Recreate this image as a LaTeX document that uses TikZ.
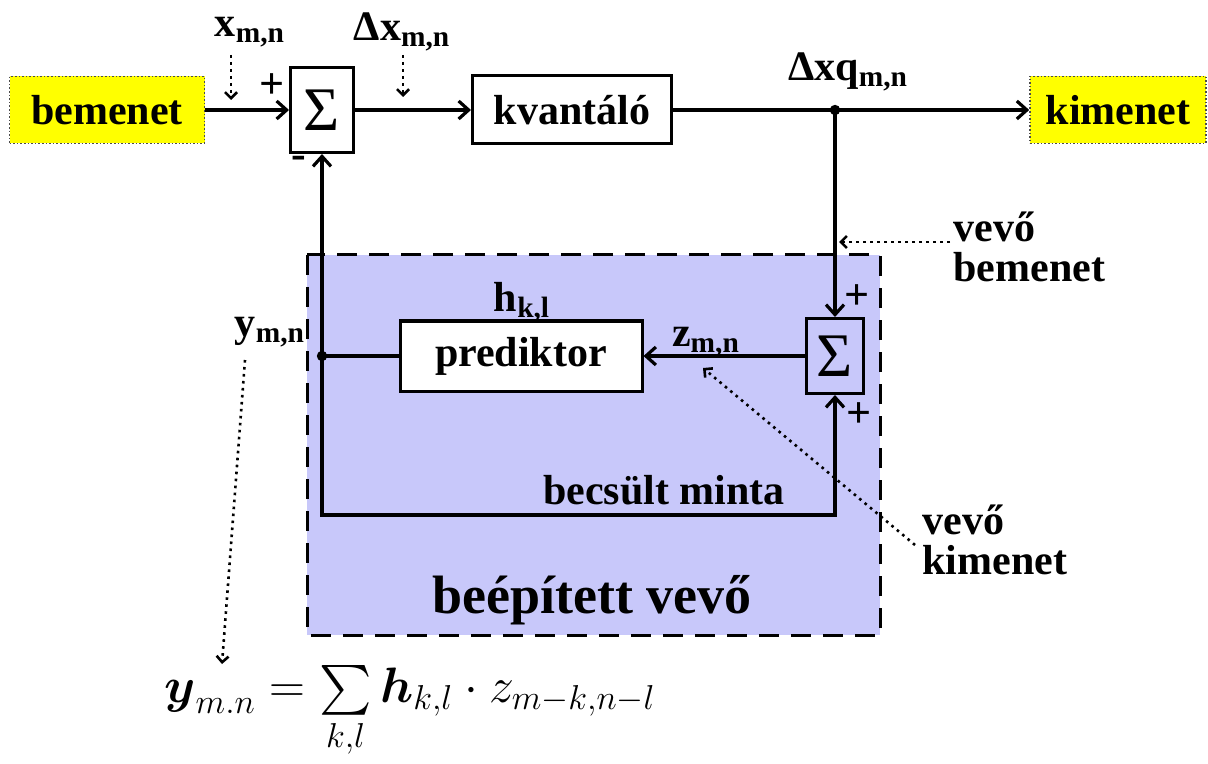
\documentclass[tikz,border=0pt]{standalone}
\usepackage{fontspec}
\usepackage{amsmath}
\setmainfont{Liberation Serif}
\usetikzlibrary{arrows.meta}

\definecolor{sarga}{RGB}{255,255,0}
\definecolor{kekes}{RGB}{200,200,250}
\newcommand{\jel}[2]{\textbf{#1}\textsubscript{\textbf{#2}}}

\begin{document}
\begin{tikzpicture}
  [x=0.5pt, y=-0.5pt,
   io/.style={rectangle, fill=sarga, draw=black!70, densely dotted, line width=0.8pt, minimum width=97.5pt, minimum height=33.5pt, font=\fontsize{21}{24}\selectfont\bfseries},
   block/.style={rectangle, draw=black, line width=1.5pt, fill=white, font=\fontsize{21}{24}\selectfont\bfseries},
   osszeg/.style={block, fill=none, inner sep=0pt, font=\fontsize{31}{34}\selectfont},
   jelnev/.style={font=\fontsize{21}{20}\selectfont\bfseries, inner sep=0pt},
   elojel/.style={font=\fontsize{22}{24}\selectfont\bfseries, inner sep=0pt},
   wire/.style={line width=1.6pt, -{Straight Barb[length=5pt,width=9pt]}},
   mutato/.style={line width=1.3pt, dash pattern=on 1.3pt off 2.2pt, -{Straight Barb[length=3pt,width=6pt]}}]

  \useasboundingbox (0,0) rectangle (1208,764);

  % Beépített vevő háttere
  \draw[line width=1.5pt, dash pattern=on 10pt off 6pt, fill=kekes] (307,255) rectangle (880,635);

  % Blokkok
  \node[io] (be) at (107,110) {bemenet};
  \node[osszeg, minimum width=31.5pt, minimum height=42.5pt] (s1) at (322,110) {Σ};
  \node[block, minimum width=99.5pt, minimum height=34pt] (kv) at (572,110) {kvantáló};
  \node[io, minimum width=88pt] (ki) at (1118,110) {kimenet};
  \node[osszeg, minimum width=28.5pt, minimum height=37.5pt] (s2) at (835,356) {Σ};
  \node[block, minimum width=121pt, minimum height=35pt] (pr) at (521,356) {prediktor};

  % Elágazások, sarkok
  \coordinate (elag) at (835,110);
  \coordinate (visz) at (322,356);
  \coordinate (ba) at (322,515);
  \coordinate (jo) at (835,515);

  % Jelutak
  \foreach \from/\to in {be/s1, s1/kv, elag/ki, elag/s2, s2/pr, ba/s1}
    \draw[wire] (\from) -- (\to);
  \draw[line width=1.6pt] (kv) -- (elag);
  \draw[line width=1.6pt] (pr) -- (visz);
  \draw[wire] (visz) -- (ba) -- (jo) -- (s2);
  \fill (elag) circle (2.6pt);
  \fill (visz) circle (2.6pt);

  % Előjelek
  \node[elojel] (p1) at (272,86) {+};
  \node[elojel] (m1) at (299,162) {-};
  \node[elojel] (p2) at (857,297) {+};
  \node[elojel] (p3) at (859,415) {+};

  % Jelek nevei
  \node[jelnev] (xmn) at (250,32) {\jel{x}{m,n}};
  \node[jelnev] (dxmn) at (402,32) {\jel{Δx}{m,n}};
  \node[jelnev] (dxq) at (848,72) {\jel{Δxq}{m,n}};
  \node[jelnev] (hkl) at (522,302) {\jel{h}{k,l}};
  \node[jelnev] (zmn) at (706,342) {\jel{z}{m,n}};
  \node[jelnev] (ymn) at (270,332) {\jel{y}{m,n}};
  \node[jelnev] (becs) at (664,490) {becsült minta};
  \node[jelnev, font=\fontsize{27}{30}\selectfont\bfseries] (vevo) at (592,600) {beépített vevő};
  \node[jelnev, align=left, anchor=west] (vbe) at (953,247) {vevő\\bemenet};
  \node[jelnev, align=left, anchor=west] (vki) at (922,540) {vevő\\kimenet};

  % Pontozott mutatók
  \coordinate (xa) at (231,55);   \coordinate (xb) at (231,100);
  \coordinate (da) at (403,55);   \coordinate (db) at (403,97);
  \coordinate (va) at (950,242);  \coordinate (vb) at (839,242);
  \coordinate (ka) at (915,545);  \coordinate (kb) at (703,368);
  \coordinate (ya) at (245,360);  \coordinate (yb) at (222,664);
  \foreach \from/\to in {xa/xb, da/db, va/vb, ka/kb, ya/yb}
    \draw[mutato] (\from) -- (\to);

  % Képlet
  \node (keplet) at (410,712) {\fontsize{24}{28}\selectfont
    $\boldsymbol{y}_{m.n} = \sum\limits_{k,l} \boldsymbol{h}_{k,l}\cdot z_{m-k,n-l}$};
\end{tikzpicture}
\end{document}
